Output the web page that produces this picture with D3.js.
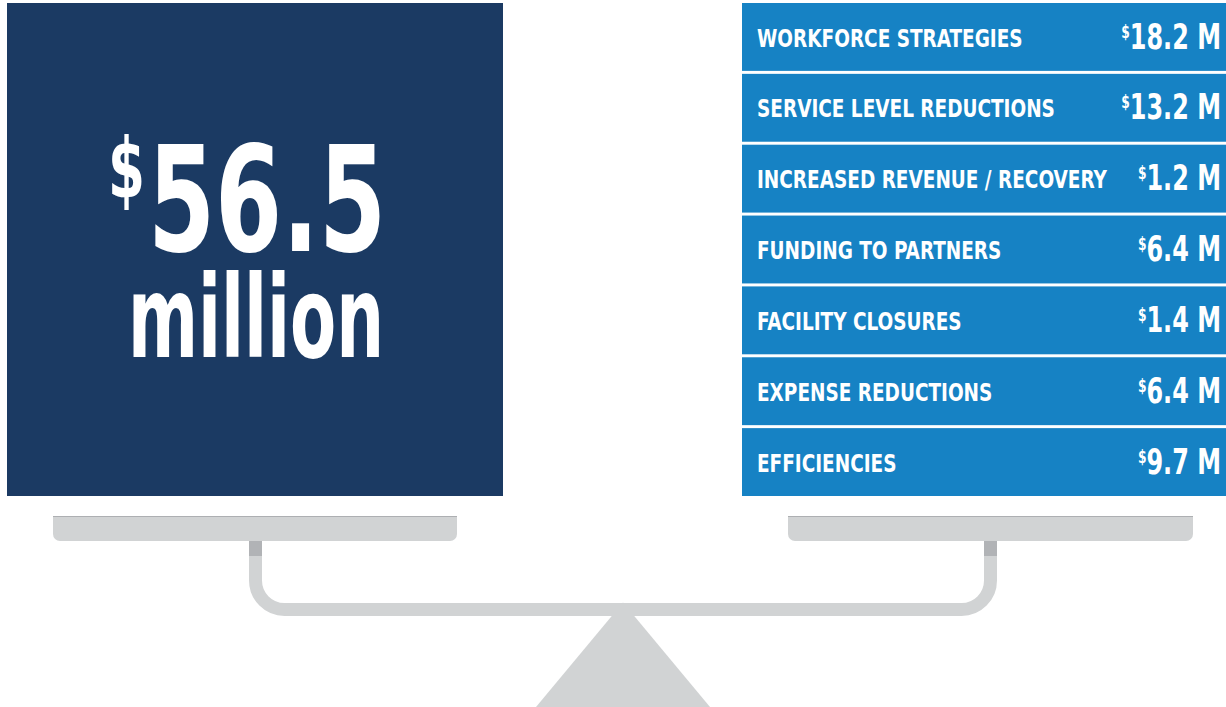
<!DOCTYPE html>
<html>
<head>
<meta charset="utf-8">
<script src="https://cdn.jsdelivr.net/npm/d3@7"></script>
<style>
  body { margin: 0; background: #fff; }
  svg { display: block; }
  text { font-family: "Liberation Sans Narrow", "DejaVu Sans Condensed", "Roboto", sans-serif; font-weight: bold; fill: #fff; }
</style>
</head>
<body>
<svg id="chart"></svg>
<script>
var width = 1226,
    height = 707;

var categories = ['WORKFORCE STRATEGIES', 'SERVICE LEVEL REDUCTIONS', 'INCREASED REVENUE / RECOVERY',
  'FUNDING TO PARTNERS', 'FACILITY CLOSURES', 'EXPENSE REDUCTIONS', 'EFFICIENCIES'];
var values = [18.2, 13.2, 1.2, 6.4, 1.4, 6.4, 9.7];
var unitLabel = 'million';

var total = d3.sum(values);
var fmt = d3.format('.1f');

// squeeze text horizontally, the original uses a condensed face
function squeeze(k) {
  return function(sel) {
    sel.each(function() {
      var w = this.getComputedTextLength();
      d3.select(this).attr('textLength', w * k).attr('lengthAdjust', 'spacingAndGlyphs');
    });
  };
}

var svg = d3.select('#chart')
    .attr('width', width)
    .attr('height', height);

// scale (drawn first, under everything)
var grey = '#d1d3d4', darkGrey = '#b1b3b6';
var panL = {x0: 53, x1: 457}, panR = {x0: 788, x1: 1193};
var panTop = 516, panBot = 541, r = 7;
var stemL = 255.5, stemR = 990.5, beamY = 609.5, cr = 29;
var mid = (stemL + stemR) / 2;

// fulcrum
svg.append('path')
    .attr('d', 'M' + mid + ',' + (beamY - 7) + 'L' + (mid + 87) + ',' + height + 'L' + (mid - 87) + ',' + height + 'Z')
    .attr('fill', grey);

// U shaped beam
var beam = d3.path();
beam.moveTo(stemL, panBot);
beam.lineTo(stemL, beamY - cr);
beam.arcTo(stemL, beamY, stemL + cr, beamY, cr);
beam.lineTo(stemR - cr, beamY);
beam.arcTo(stemR, beamY, stemR, beamY - cr, cr);
beam.lineTo(stemR, panBot);
svg.append('path')
    .attr('d', beam.toString())
    .attr('fill', 'none')
    .attr('stroke', grey)
    .attr('stroke-width', 13);

[stemL, stemR].forEach(function(x) {
  svg.append('rect')
      .attr('x', x - 6.5).attr('y', panBot)
      .attr('width', 13).attr('height', 15)
      .attr('fill', darkGrey);
});

[panL, panR].forEach(function(p) {
  var d = d3.path();
  d.moveTo(p.x0, panTop);
  d.lineTo(p.x1, panTop);
  d.lineTo(p.x1, panBot - r);
  d.arcTo(p.x1, panBot, p.x1 - r, panBot, r);
  d.lineTo(p.x0 + r, panBot);
  d.arcTo(p.x0, panBot, p.x0, panBot - r, r);
  d.closePath();
  svg.append('path').attr('d', d.toString()).attr('fill', grey);
  svg.append('line')
      .attr('x1', p.x0).attr('x2', p.x1)
      .attr('y1', panTop + 0.5).attr('y2', panTop + 0.5)
      .attr('stroke', '#adafb2');
});

// left block: the total
var left = svg.append('g');
left.append('rect')
    .attr('x', 7).attr('y', 3)
    .attr('width', 496).attr('height', 493)
    .attr('fill', '#1b3a63');

left.append('text')
    .attr('x', 108).attr('y', 198)
    .style('font-size', '84px')
    .attr('textLength', 37).attr('lengthAdjust', 'spacingAndGlyphs')
    .text('$');

left.append('text')
    .attr('x', 148).attr('y', 251)
    .style('font-size', '146px')
    .attr('textLength', 238).attr('lengthAdjust', 'spacingAndGlyphs')
    .text(fmt(total));

left.append('text')
    .attr('x', 128).attr('y', 357)
    .style('font-size', '114px')
    .attr('textLength', 256).attr('lengthAdjust', 'spacingAndGlyphs')
    .text(unitLabel);

// right block: the parts
var y = d3.scaleBand()
    .domain(categories)
    .range([3, 496])
    .paddingInner(0.042);

var row = svg.selectAll('g.row')
    .data(categories)
    .enter()
    .append('g')
    .attr('class', 'row')
    .attr('transform', function(d) { return 'translate(0,' + y(d) + ')'; });

row.append('rect')
    .attr('x', 742)
    .attr('width', width - 742)
    .attr('height', y.bandwidth())
    .attr('fill', '#1682c4');

row.append('text')
    .attr('x', 757)
    .attr('y', 43.5)
    .style('font-size', '24px')
    .text(function(d) { return d; })
    .call(squeeze(0.855));

var val = row.append('text')
    .attr('x', 1221)
    .attr('y', 45.5)
    .attr('text-anchor', 'end');

val.append('tspan')
    .style('font-size', '18px')
    .attr('dy', -11)
    .text('$');

val.append('tspan')
    .style('font-size', '35px')
    .attr('dy', 11)
    .text(function(d, i) { return fmt(values[i]) + ' M'; });

val.call(squeeze(0.76));
</script>
</body>
</html>
